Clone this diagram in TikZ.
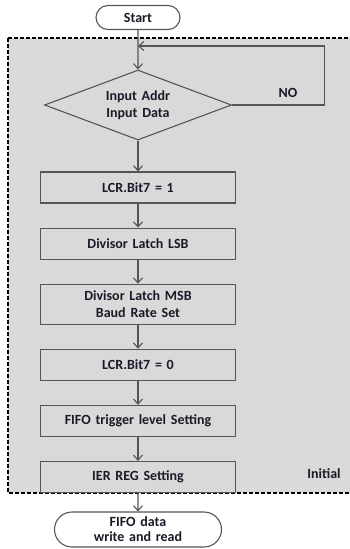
\documentclass[tikz,border=0pt]{standalone}
\usepackage{fontspec}
\setmainfont{Carlito}[WordSpace={1.5,1,1}]
\usepackage{xcolor}
\usepackage{tikz}
\usetikzlibrary{shapes.geometric, shapes.misc, arrows.meta, positioning}

\definecolor{linegray}{HTML}{555555}
\definecolor{areagray}{HTML}{D9D9D9}
\definecolor{textdark}{HTML}{1A1A28}

\begin{document}
\begin{tikzpicture}[x=1pt, y=-1pt, node distance=24pt, font=\fontsize{14}{17}\selectfont\bfseries, text=textdark]
		% Define styles for the blocks and arrows
		\tikzstyle{block} = [rectangle, draw=linegray, line width=1.1pt, fill=areagray, text centered, align=center, minimum width=195pt, minimum height=31pt]
		\tikzstyle{terminal} = [rounded rectangle, draw=linegray, line width=1.1pt, fill=white, align=center, inner sep=1pt]
		\tikzstyle{decision} = [diamond, draw=linegray, line width=1.1pt, fill=areagray, align=center, aspect=2.67, inner sep=0pt, minimum width=187pt, minimum height=70pt]
		\tikzstyle{arrow} = [draw=linegray, line width=1.1pt, -{Straight Barb[length=5pt, width=9pt]}]

		\useasboundingbox (0,0) rectangle (350,549);

		% Dashed area of the initial setup
		\draw[fill=areagray, line width=1.4pt, dash pattern=on 4pt off 2pt] (8,38) rectangle (362,493);
		\node at (324,474) {Initial};

		% Define the nodes (blocks)
		\node (start) [terminal, minimum width=86pt, minimum height=24pt] at (138,17.5) {Start};
		\node (check) [decision] at (138,105) {Input Addr\\Input Data};
		\node (lcrset) [block] at (138,187.5) {LCR.Bit7 = 1};
		\node (dllsb) [block, below=of lcrset] {Divisor Latch LSB};
		\node (dlmsb) [block, below=of dllsb, minimum height=40pt] {Divisor Latch MSB\\Baud Rate Set};
		\node (lcrclr) [block, below=of dlmsb] {LCR.Bit7 = 0};
		\node (fifo) [block, below=of lcrclr] {FIFO trigger level Setting};
		\node (ier) [block, below=of fifo] {IER REG Setting};
		\node (rw) [terminal, minimum width=169pt, minimum height=35pt, font=\fontsize{14}{15}\selectfont\bfseries] at (138,529.5) {FIFO data\\write and read};
		\coordinate (merge) at (138,46);

		% Draw arrows between the blocks
		\draw [arrow] (start) -- (check);
		\draw [arrow] (check.east) -- ++(92,0) |- (merge);
		\node at (288,93) {NO};
		\draw [arrow] (check) -- (lcrset);
		\draw [arrow] (lcrset) -- (dllsb);
		\draw [arrow] (dllsb) -- (dlmsb);
		\draw [arrow] (dlmsb) -- (lcrclr);
		\draw [arrow] (lcrclr) -- (fifo);
		\draw [arrow] (fifo) -- (ier);
		\draw [arrow] (ier) -- (rw);
	\end{tikzpicture}
\end{document}
